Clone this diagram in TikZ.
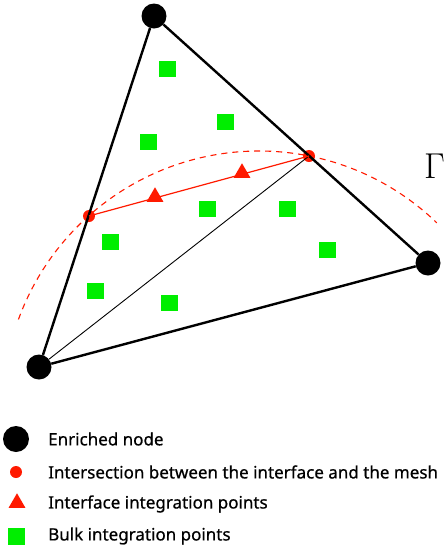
\documentclass[tikz,border=0pt]{standalone}
\usepackage{fix-cm}
\usepackage{fontspec}
\newfontfamily\legendfont[RawFeature={embolden=0.7}]{Noto Sans}
\usetikzlibrary{shapes.geometric}
\definecolor{intred}{RGB}{255,26,0}
\definecolor{bulkgreen}{RGB}{0,238,0}

\begin{document}
\begin{tikzpicture}[x=1pt, y=-1pt]
			\tikzstyle{enriched} = [circle, minimum size=25pt, inner sep=0pt, fill=black]
			\tikzstyle{cut}      = [circle, minimum size=12pt, inner sep=0pt, fill=intred]
			\tikzstyle{ipoint}   = [regular polygon, regular polygon sides=3, minimum size=19.5pt, inner sep=0pt, fill=intred]
			\tikzstyle{bpoint}   = [rectangle, minimum width=17pt, minimum height=16pt, inner sep=0pt, fill=bulkgreen]
			\tikzstyle{legtext}  = [anchor=west, inner sep=0pt, font=\legendfont\fontsize{17}{20}\selectfont]

			\useasboundingbox (0,0) rectangle (444,550);

			% interface
			\draw[intred, line width=1.1pt, dash pattern=on 6pt off 5pt] (259,407) ++(-160:256) arc[start angle=-160, end angle=-46, radius=256];
			\node[font=\fontsize{36}{40}\selectfont, anchor=west, inner sep=0pt] (gamma) at (424,166) {$\Gamma$};

			\foreach \name/\x/\y in {ia/89/216, ib/309/156}
				\node[cut] (\name) at (\x, \y) {};

			\foreach \name/\x/\y in {top/154/16, right/428/263, left/39/367}
				\node[enriched] (\name) at (\x, \y) {};

			\foreach \from/\to in {left/top, top/right, right/left}
				\draw[line width=2.4pt] (\from) -- (\to);
			\draw[line width=0.9pt] (left) -- (ib.center);
			\draw[intred, line width=1.2pt] (ia.center) -- (ib.center);

			\foreach \name/\x/\y in {t1/155/197, t2/242/173}
				\node[ipoint] (\name) at (\x, \y) {};

			\foreach \name/\x/\y in {b1/167/69, b2/225/122, b3/148/142, b4/207/209, b5/287/209, b6/110/242, b7/327/250, b8/95/291, b9/169/303}
				\node[bpoint] (\name) at (\x, \y) {};

			% legend
			\node[enriched, minimum size=26pt] (lgnode) at (16,439) {};
			\node[cut] (lgcut) at (16,472) {};
			\node[ipoint] (lgint) at (17,503) {};
			\node[bpoint, minimum height=17pt] (lgbulk) at (16,536) {};

			\foreach \name/\y/\text in {txnode/439/Enriched node, txcut/472/Intersection between the interface and the mesh, txint/504/Interface integration points, txbulk/536/Bulk integration points}
				\node[legtext] (\name) at (48, \y) {\text};

		\end{tikzpicture}
\end{document}
